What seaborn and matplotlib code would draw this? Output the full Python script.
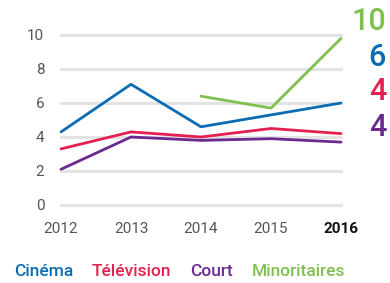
import matplotlib
matplotlib.use("Agg")
import matplotlib.pyplot as plt
import seaborn as sns
import pandas as pd
import numpy as np

years = [2012, 2013, 2014, 2015, 2016]
cinema = [4.3, 7.1, 4.6, 5.3, 6.0]
television = [3.3, 4.3, 4.0, 4.5, 4.2]
court = [2.1, 4.0, 3.8, 3.9, 3.7]
minoritaires = [np.nan, np.nan, 6.4, 5.7, 9.8]
series_names = ["Cinéma", "Télévision", "Court", "Minoritaires"]
end_labels = ["6", "4", "4", "10"]
colors = ["#0a6db3", "#e3204f", "#6b2a8e", "#80c04f"]

sns.set_theme(style="white")
plt.rcParams['font.family'] = ['Roboto', 'DejaVu Sans']

df = pd.DataFrame({"year": years, "Cinéma": cinema, "Télévision": television,
                   "Court": court, "Minoritaires": minoritaires})
long = df.melt(id_vars="year", var_name="serie", value_name="val").dropna()

W, H = 390, 283
fig = plt.figure(figsize=(W/100, H/100), dpi=100)
ax = fig.add_axes([61/W, (H-205)/H, (341-61)/W, 170/H])

for v in [0, 2, 4, 6, 8, 10]:
    ax.axhline(v, color="#e3e3e3", lw=2.2, zorder=0)

sns.lineplot(data=long, x="year", y="val", hue="serie", hue_order=series_names,
             palette=colors, lw=2, legend=False, ax=ax, clip_on=False)
for l in ax.lines:
    l.set_clip_on(False)

ax.set_xlim(2012, 2016)
ax.set_ylim(0, 10)
ax.set_xticks(years)
ax.set_xticklabels([str(y) for y in years])
ax.set_yticks([0, 2, 4, 6, 8, 10])
ax.set_yticklabels(["0", "2", "4", "6", "8", "10"])
ax.tick_params(axis="both", length=0, labelsize=11, labelcolor="#555555")
ax.tick_params(axis="x", pad=12)
ax.tick_params(axis="y", pad=12)
for t in ax.get_xticklabels():
    if t.get_text() == "2016":
        t.set_fontweight("bold")
        t.set_color("#111111")
for s in ax.spines.values():
    s.set_visible(False)
ax.set_xlabel("")
ax.set_ylabel("")

# end labels
label_y = [58, 92, 127, 22]
for name, lab, c, yp in zip(series_names, end_labels, colors, label_y):
    fig.text(386/W, (H-yp)/H, lab, color=c, fontsize=22, fontweight="medium",
             ha="right", va="center")

# legend
leg_x = [14, 92, 190, 252]
for name, c, xp in zip(series_names, colors, leg_x):
    fig.text(xp/W, (H-272)/H, name, color=c, fontsize=12.5, fontweight="medium",
             ha="left", va="center")

fig.savefig("out.png", dpi=100)
